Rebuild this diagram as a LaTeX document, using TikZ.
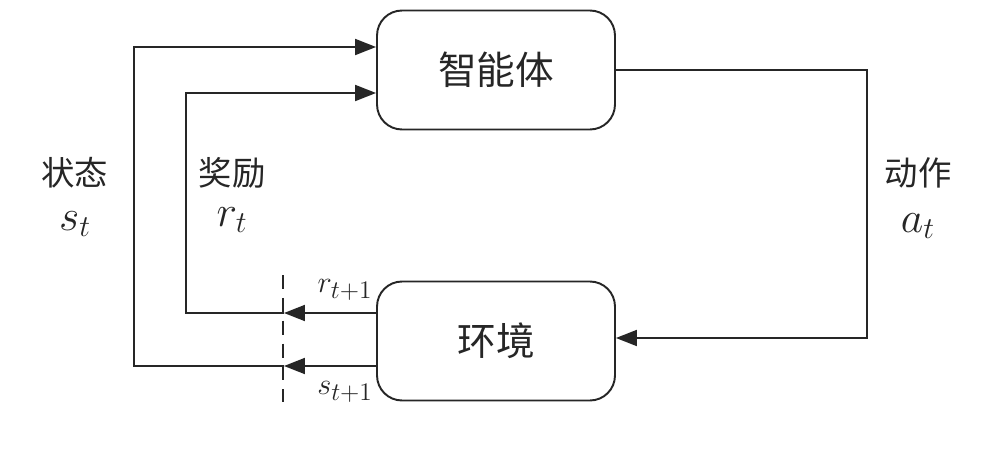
\documentclass[tikz,border=0pt]{standalone}
\usepackage{fontspec}
\newfontfamily\cjk{Noto Sans CJK SC}
\usetikzlibrary{arrows.meta}
\tikzset{
box/.style={
	  draw, line width=1.1pt, rounded corners=0.5cm,
	    minimum width=4.76cm, minimum height=2.38cm,
    font=\cjk\fontsize{22}{26}\selectfont},
flow/.style={line width=1.1pt, -{Triangle[length=0.42cm,width=0.32cm]}},
wire/.style={line width=1.1pt},
tag/.style={font=\cjk\fontsize{19}{23}\selectfont},
sym/.style={font=\fontsize{24}{28}\selectfont},
subsym/.style={font=\fontsize{19}{22}\selectfont}
}

\begin{document}
\begin{tikzpicture}[x=0.02cm, y=-0.02cm, draw=black!85, text=black!85]
	\useasboundingbox (0,0) rectangle (991,453);
	\node[box] (agent) at (496,70) {智能体};
	\node[box] (env) at (496,341) {环境};
	% cut line
	\coordinate (cuttop) at (283,275);
	\coordinate (cutbot) at (283,402);
	\draw[wire, dashed, dash pattern=on 8pt off 5pt, line width=0.9pt] (cuttop) -- (cutbot);
	\coordinate (rcut) at (284,313);
	\coordinate (scut) at (284,366);
	\coordinate (rturn) at (186,313);
	\coordinate (sturn) at (134,366);
	\coordinate (ain) at (867,70);
	\coordinate (aout) at (867,338);
	% loops
	\draw[flow] (env.west |- rcut) -- (rcut);
	\draw[flow] (env.west |- scut) -- (scut);
	\draw[flow] (rcut) -- (rturn) |- (agent.west |- 0,93);
	\draw[flow] (scut) -- (sturn) |- (agent.west |- 0,47);
	\draw[flow] (agent.east) -- (ain) -- (aout) -- (env.east |- aout);
	% labels
	\node[tag] (state) at (75,173) {状态};
	\node[sym] (statesym) at (75,224) {$s_t$};
	\node[tag] (reward) at (232,173) {奖励};
	\node[sym] (rewardsym) at (232,220) {$r_t$};
	\node[tag] (action) at (918,173) {动作};
	\node[sym] (actionsym) at (918,226) {$a_t$};
	\node[subsym] (rnext) at (345,290) {$r_{t+1}$};
	\node[subsym] (snext) at (345,392) {$s_{t+1}$};
\end{tikzpicture}
\end{document}
